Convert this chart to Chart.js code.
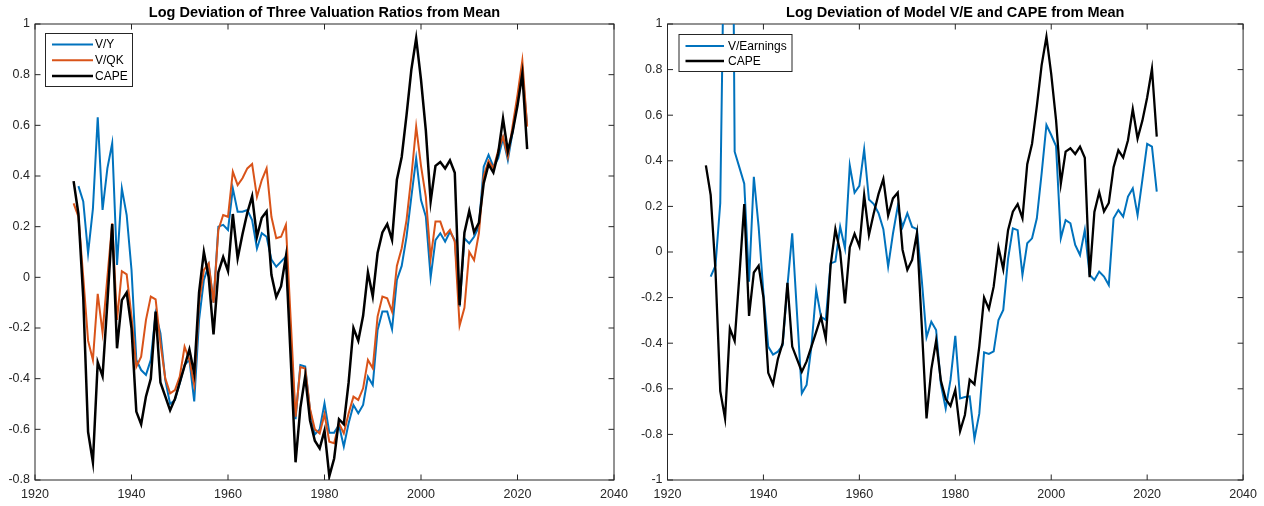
<!DOCTYPE html>
<html><head><meta charset="utf-8">
<script src="https://cdn.jsdelivr.net/npm/chart.js@4.4.1/dist/chart.umd.min.js"></script>
<style>
body{margin:0;background:#fff;width:1264px;height:506px;overflow:hidden;position:relative}
canvas{position:absolute;top:0}
</style></head>
<body>
<canvas id="c1" width="640" height="506" style="left:0"></canvas>
<canvas id="c2" width="624" height="506" style="left:640px"></canvas>
<script>
// ---------------- data ----------------
const years = [1928,1929,1930,1931,1932,1933,1934,1935,1936,1937,1938,1939,
1940,1941,1942,1943,1944,1945,1946,1947,1948,1949,
1950,1951,1952,1953,1954,1955,1956,1957,1958,1959,
1960,1961,1962,1963,1964,1965,1966,1967,1968,1969,
1970,1971,1972,1973,1974,1975,1976,1977,1978,1979,
1980,1981,1982,1983,1984,1985,1986,1987,1988,1989,
1990,1991,1992,1993,1994,1995,1996,1997,1998,1999,
2000,2001,2002,2003,2004,2005,2006,2007,2008,2009,
2010,2011,2012,2013,2014,2015,2016,2017,2018,2019,
2020,2021,2022];

const cape = [0.38,0.25,-0.08,-0.61,-0.73,-0.335,-0.39,-0.10,0.21,-0.28,-0.09,-0.06,
-0.20,-0.53,-0.58,-0.47,-0.40,-0.135,-0.415,-0.47,-0.525,-0.48,
-0.415,-0.35,-0.285,-0.38,-0.06,0.10,0.00,-0.225,0.02,0.08,
0.025,0.25,0.075,0.17,0.255,0.32,0.16,0.235,0.26,0.01,
-0.078,-0.035,0.082,-0.32,-0.73,-0.515,-0.39,-0.565,-0.645,-0.675,
-0.605,-0.785,-0.715,-0.56,-0.58,-0.415,-0.20,-0.25,-0.152,0.02,
-0.075,0.096,0.177,0.21,0.148,0.385,0.475,0.64,0.82,0.944,
0.78,0.58,0.30,0.44,0.455,0.43,0.462,0.413,-0.11,0.176,
0.262,0.178,0.215,0.372,0.446,0.414,0.49,0.627,0.498,0.576,
0.678,0.804,0.506];

const vY = [null,0.36,0.30,0.095,0.27,0.632,0.266,0.43,0.529,0.049,0.351,0.246,
0.03,-0.326,-0.366,-0.385,-0.326,-0.142,-0.221,-0.405,-0.50,-0.484,
-0.418,-0.346,-0.326,-0.49,-0.168,-0.01,0.049,-0.10,0.20,0.207,
0.187,0.351,0.259,0.259,0.266,0.226,0.114,0.174,0.16,0.07,
0.042,0.062,0.082,-0.24,-0.56,-0.346,-0.352,-0.524,-0.62,-0.60,
-0.497,-0.613,-0.613,-0.583,-0.668,-0.576,-0.504,-0.537,-0.504,-0.392,
-0.425,-0.208,-0.135,-0.135,-0.205,-0.01,0.045,0.16,0.318,0.47,
0.305,0.24,0.00,0.147,0.174,0.141,0.18,0.147,-0.116,0.154,
0.134,0.16,0.20,0.437,0.483,0.437,0.47,0.55,0.463,0.575,
0.70,0.818,0.60];

const vQK = [0.292,0.24,0.00,-0.25,-0.326,-0.065,-0.218,0.00,0.213,-0.168,0.024,0.012,
-0.155,-0.353,-0.313,-0.168,-0.076,-0.087,-0.26,-0.399,-0.458,-0.445,
-0.392,-0.274,-0.326,-0.425,-0.10,0.029,0.055,-0.10,0.187,0.246,
0.239,0.417,0.364,0.391,0.43,0.447,0.318,0.384,0.43,0.239,
0.154,0.16,0.207,-0.17,-0.55,-0.354,-0.36,-0.52,-0.60,-0.616,
-0.54,-0.649,-0.655,-0.576,-0.616,-0.537,-0.471,-0.484,-0.438,-0.326,
-0.359,-0.155,-0.076,-0.083,-0.135,0.045,0.115,0.226,0.397,0.595,
0.44,0.318,0.075,0.22,0.22,0.165,0.187,0.141,-0.19,-0.12,
0.10,0.068,0.174,0.40,0.46,0.43,0.50,0.555,0.476,0.60,
0.72,0.855,0.595];

const vEarn = [null,-0.108,-0.06,0.215,1.70,3.50,0.44,0.37,0.30,-0.13,0.33,0.11,
-0.18,-0.415,-0.45,-0.437,-0.41,-0.15,0.082,-0.27,-0.62,-0.583,
-0.415,-0.167,-0.284,-0.298,-0.05,-0.042,0.111,0.016,0.38,0.26,
0.29,0.45,0.23,0.21,0.17,0.10,-0.064,0.08,0.20,0.11,
0.17,0.11,0.10,-0.12,-0.374,-0.306,-0.342,-0.58,-0.686,-0.561,
-0.368,-0.642,-0.636,-0.633,-0.819,-0.709,-0.44,-0.447,-0.436,-0.298,
-0.254,-0.03,0.104,0.096,-0.101,0.038,0.06,0.148,0.345,0.557,
0.513,0.465,0.06,0.14,0.126,0.031,-0.013,0.096,-0.10,-0.123,
-0.086,-0.108,-0.145,0.148,0.184,0.155,0.243,0.279,0.162,0.316,
0.474,0.462,0.265];

const xTicks = [1920,1940,1960,1980,2000,2020,2040];
const yTicksLeft = [-0.8,-0.6,-0.4,-0.2,0,0.2,0.4,0.6,0.8,1];
const yTicksRight = [-1,-0.8,-0.6,-0.4,-0.2,0,0.2,0.4,0.6,0.8,1];

const titleLeft = 'Log Deviation of Three Valuation Ratios from Mean';
const titleRight = 'Log Deviation of Model V/E and CAPE from Mean';

// ---------------- styling ----------------
const BLUE = '#0072BD', ORANGE = '#D95319', BLACK = '#000000';
const AXC = '#262626';
const FONT = '"Liberation Sans", Arial, Helvetica, sans-serif';

function pts(vals){ return years.map((yr,i)=>({x:yr, y:vals[i]})); }

const frame = {
  id:'frame',
  beforeDatasetsDraw(chart){
    const {ctx, chartArea:a, scales:{x,y}} = chart;
    ctx.save();
    ctx.strokeStyle = AXC; ctx.lineWidth = 1;
    ctx.strokeRect(a.left, a.top, a.right-a.left, a.bottom-a.top);
    const L = 5.5;
    ctx.beginPath();
    x.ticks.forEach(t=>{ const p = x.getPixelForValue(t.value);
      ctx.moveTo(p,a.bottom); ctx.lineTo(p,a.bottom-L);
      ctx.moveTo(p,a.top); ctx.lineTo(p,a.top+L); });
    y.ticks.forEach(t=>{ const p = y.getPixelForValue(t.value);
      ctx.moveTo(a.left,p); ctx.lineTo(a.left+L,p);
      ctx.moveTo(a.right,p); ctx.lineTo(a.right-L,p); });
    ctx.stroke();
    ctx.restore();
  },
  afterDraw(chart, args, opts){
    const {ctx, chartArea:a} = chart;
    ctx.save();
    ctx.fillStyle = '#000';
    ctx.font = 'bold 14.5px ' + FONT;
    ctx.textAlign = 'center'; ctx.textBaseline = 'middle';
    ctx.fillText(opts.title, (a.left+a.right)/2, 12.8);
    // legend
    const lg = opts.legend;
    const bx = a.left + lg.dx, by = a.top + lg.dy;
    ctx.fillStyle = '#fff';
    ctx.fillRect(bx, by, lg.w, lg.h);
    ctx.strokeStyle = AXC; ctx.lineWidth = 1;
    ctx.strokeRect(bx+0.5, by+0.5, lg.w, lg.h);
    ctx.font = '12px ' + FONT;
    ctx.textAlign = 'left'; ctx.textBaseline = 'middle';
    chart.data.datasets.forEach((ds,i)=>{
      const ry = by + lg.row0 + i*lg.rowH;
      ctx.strokeStyle = ds.borderColor; ctx.lineWidth = ds.borderWidth;
      ctx.beginPath(); ctx.moveTo(bx+lg.l0, ry); ctx.lineTo(bx+lg.l1, ry); ctx.stroke();
      ctx.fillStyle = '#000';
      ctx.fillText(ds.label, bx+lg.tx, ry+0.5);
    });
    ctx.restore();
  }
};

function makeChart(id, datasets, yMin, yMax, yTicks, padRight, title, legend){
  return new Chart(document.getElementById(id), {
    type:'line',
    data:{datasets},
    options:{
      responsive:false, animation:false, devicePixelRatio:1,
      layout:{padding:{top:24, right:padRight, left:0, bottom:0}},
      elements:{point:{radius:0}, line:{tension:0}},
      plugins:{legend:{display:false}, tooltip:{enabled:false}, title:{display:false},
        frame:{title, legend}},
      scales:{
        x:{type:'linear', min:1920, max:2040,
           afterBuildTicks:s=>{ s.ticks = xTicks.map(v=>({value:v})); },
           afterFit:s=>{ s.height = 26; },
           grid:{display:false, drawTicks:false}, border:{display:false},
           ticks:{autoSkip:false, maxRotation:0, padding:7, color:AXC,
                  font:{family:FONT, size:12.5}, callback:v=>String(v)}},
        y:{type:'linear', min:yMin, max:yMax,
           afterBuildTicks:s=>{ s.ticks = yTicks.map(v=>({value:v})); },
           afterFit:s=>{ s.width = id==='c1' ? 35 : 27.5; },
           grid:{display:false, drawTicks:false}, border:{display:false},
           ticks:{autoSkip:false, padding:5, color:AXC,
                  font:{family:FONT, size:12.5}, callback:v=>String(+Number(v).toFixed(2))}}
      }
    },
    plugins:[frame]
  });
}

makeChart('c1', [
  {label:'V/Y', data:pts(vY), borderColor:BLUE, borderWidth:2, order:3, fill:false},
  {label:'V/QK', data:pts(vQK), borderColor:ORANGE, borderWidth:2, order:2, fill:false},
  {label:'CAPE', data:pts(cape), borderColor:BLACK, borderWidth:2.5, order:1, fill:false}
], -0.8, 1, yTicksLeft, 26, titleLeft,
  {dx:10, dy:9, w:87, h:53, l0:7, l1:48, tx:50, row0:11.5, rowH:15.7});

makeChart('c2', [
  {label:'V/Earnings', data:pts(vEarn), borderColor:BLUE, borderWidth:2, order:2, fill:false},
  {label:'CAPE', data:pts(cape), borderColor:BLACK, borderWidth:2.3, order:1, fill:false}
], -1, 1, yTicksRight, 17, titleRight,
  {dx:11, dy:10, w:113, h:37, l0:7, l1:45.5, tx:49.5, row0:12, rowH:15});
</script>
</body></html>
